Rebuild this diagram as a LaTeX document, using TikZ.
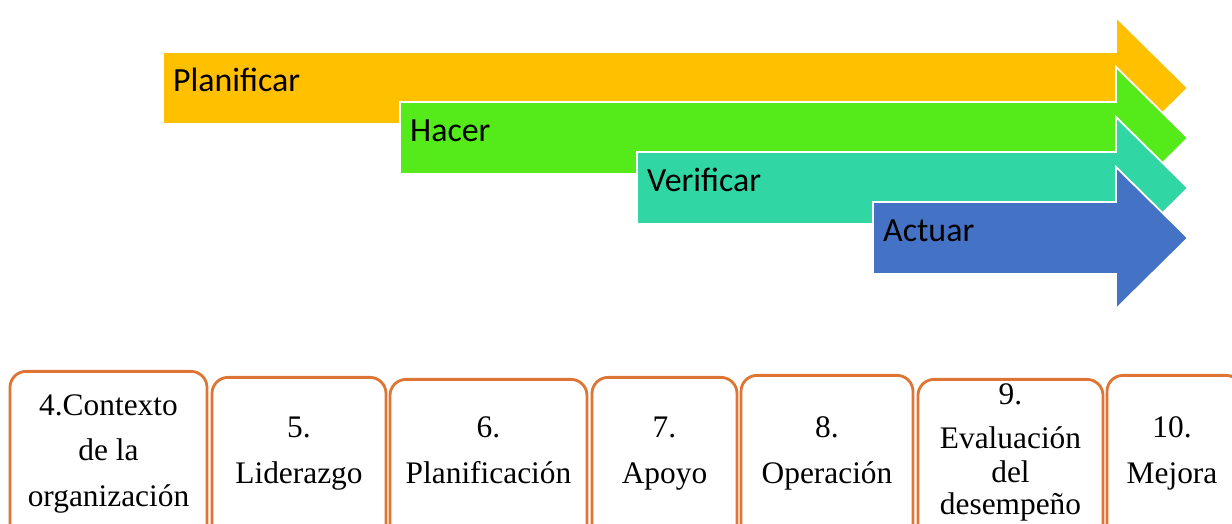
\documentclass[tikz,border=0pt]{standalone}
\usepackage{fontspec}
\setmainfont{Liberation Serif}
\newfontfamily\arrowfont{Carlito}
\definecolor{cPlan}{HTML}{FFC000}
\definecolor{cHacer}{HTML}{55EB1A}
\definecolor{cVer}{HTML}{30D6A4}
\definecolor{cAct}{HTML}{4472C4}
\definecolor{cBox}{HTML}{DF7534}
\tikzset{
  arrowshape/.style={draw=white, line width=1.8bp, line join=miter},
  arrowlbl/.style={anchor=base west, inner sep=0pt, font=\arrowfont\fontsize{34}{38}\selectfont, text=black},
  stagebox/.style={draw=cBox, line width=2.8bp, rounded corners=16bp, fill=white, minimum height=220bp, anchor=north, inner sep=0pt},
  boxlbl/.style={anchor=base, inner sep=0pt, font=\fontsize{31.5}{36}\selectfont, text=black},
}
\begin{document}
\begin{tikzpicture}[x=1bp,y=-1bp]
\useasboundingbox (0,0) rectangle (1232,524);
\clip (0,0) rectangle (1232,524);
% arrows
\foreach \xl/\dy/\col in {163/0/cPlan, 400/50/cHacer, 637/100/cVer, 873/150/cAct}{
  \filldraw[arrowshape, fill=\col]
    (\xl,52+\dy) -- (1116,52+\dy) -- (1116,17+\dy) -- (1188,88+\dy)
    -- (1116,159+\dy) -- (1116,124+\dy) -- (\xl,124+\dy) -- cycle;
}
\node[arrowlbl] (plan) at (173,92) {Planificar};
\node[arrowlbl] (hacer) at (410,142) {Hacer};
\node[arrowlbl] (verif) at (647,192) {Verificar};
\node[arrowlbl] (actuar) at (883,242) {Actuar};
% boxes
\node[stagebox, minimum width=197bp] (b1) at (108.5,370) {};
\node[stagebox, minimum width=174bp] (b2) at (299,376) {};
\node[stagebox, minimum width=197bp] (b3) at (488.5,378) {};
\node[stagebox, minimum width=145bp] (b4) at (664.5,376) {};
\node[stagebox, minimum width=172bp] (b5) at (827,374) {};
\node[stagebox, minimum width=185bp] (b6) at (1010.5,378) {};
\node[stagebox, minimum width=135bp] (b7) at (1174.5,374) {};
% labels
\node[boxlbl] (b1a) at (108.5,415) {4.Contexto};
\node[boxlbl] (b1b) at (108.5,460) {de la};
\node[boxlbl] (b1c) at (108.5,506) {organización};
\node[boxlbl] (b2a) at (299,437) {5.};
\node[boxlbl] (b2b) at (299,483) {Liderazgo};
\node[boxlbl] (b3a) at (488.5,437) {6.};
\node[boxlbl] (b3b) at (488.5,483) {Planificación};
\node[boxlbl] (b4a) at (664.5,437) {7.};
\node[boxlbl] (b4b) at (664.5,483) {Apoyo};
\node[boxlbl] (b5a) at (827,437) {8.};
\node[boxlbl] (b5b) at (827,483) {Operación};
\node[boxlbl] (b6a) at (1010.5,404) {9.};
\node[boxlbl] (b6b) at (1010.5,448) {Evaluación};
\node[boxlbl] (b6c) at (1010.5,482) {del};
\node[boxlbl] (b6d) at (1010.5,514) {desempeño};
\node[boxlbl] (b7a) at (1172,437) {10.};
\node[boxlbl] (b7b) at (1172,483) {Mejora};
\end{tikzpicture}
\end{document}
